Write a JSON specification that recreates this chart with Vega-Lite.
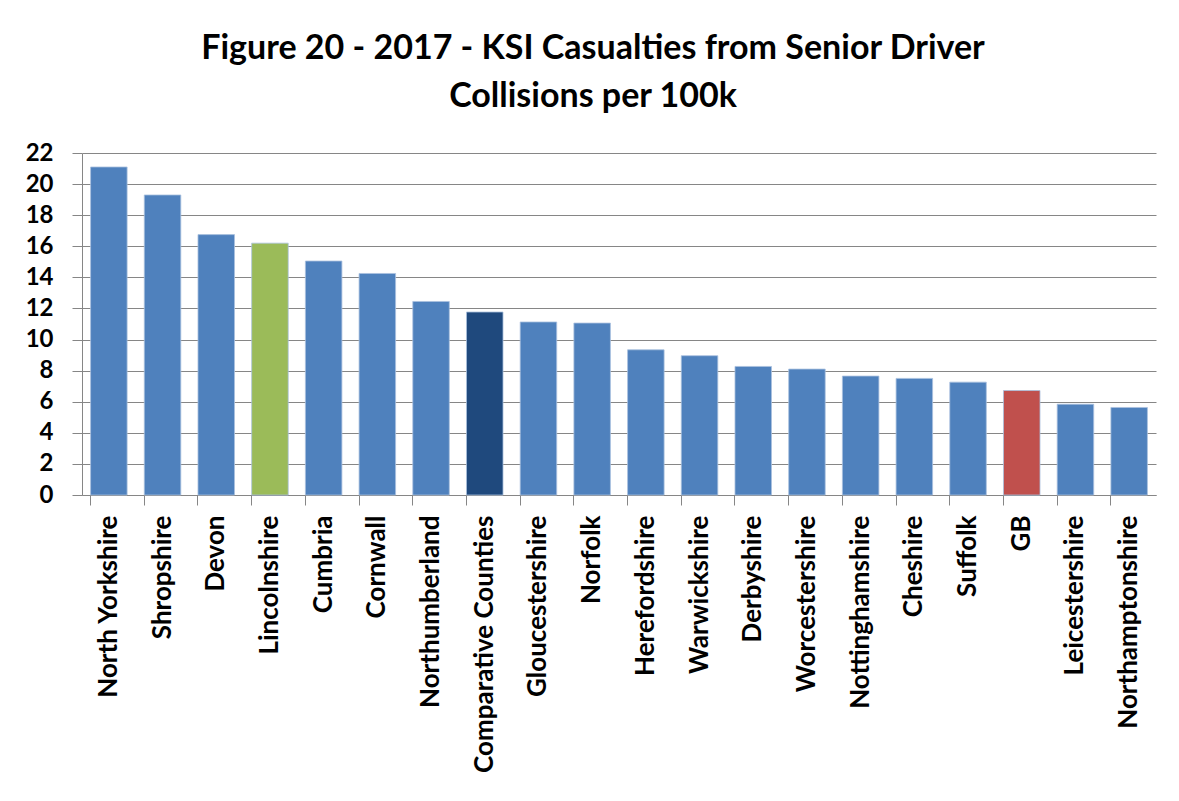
{
  "$schema": "https://vega.github.io/schema/vega-lite/v6.json",
  "width": 1074,
  "height": 342,
  "autosize": {"type": "none"},
  "padding": {"left": 82, "top": 153, "right": 23, "bottom": 306},
  "background": "white",
  "title": {
    "text": ["Figure 20 - 2017 - KSI Casualties from Senior Driver", "Collisions per 100k"],
    "font": "Lato",
    "fontSize": 34,
    "fontWeight": "bold",
    "color": "#000000",
    "lineHeight": 48,
    "anchor": "middle",
    "dx": -26,
    "offset": 27
  },
  "data": {
    "values": [
      {"area": "North Yorkshire", "value": 21.1, "group": "county"},
      {"area": "Shropshire", "value": 19.3, "group": "county"},
      {"area": "Devon", "value": 16.75, "group": "county"},
      {"area": "Lincolnshire", "value": 16.2, "group": "lincs"},
      {"area": "Cumbria", "value": 15.05, "group": "county"},
      {"area": "Cornwall", "value": 14.25, "group": "county"},
      {"area": "Northumberland", "value": 12.45, "group": "county"},
      {"area": "Comparative Counties", "value": 11.77, "group": "comparative"},
      {"area": "Gloucestershire", "value": 11.13, "group": "county"},
      {"area": "Norfolk", "value": 11.06, "group": "county"},
      {"area": "Herefordshire", "value": 9.34, "group": "county"},
      {"area": "Warwickshire", "value": 8.96, "group": "county"},
      {"area": "Derbyshire", "value": 8.27, "group": "county"},
      {"area": "Worcestershire", "value": 8.1, "group": "county"},
      {"area": "Nottinghamshire", "value": 7.65, "group": "county"},
      {"area": "Cheshire", "value": 7.5, "group": "county"},
      {"area": "Suffolk", "value": 7.26, "group": "county"},
      {"area": "GB", "value": 6.72, "group": "gb"},
      {"area": "Leicestershire", "value": 5.84, "group": "county"},
      {"area": "Northamptonshire", "value": 5.63, "group": "county"}
    ]
  },
  "mark": {"type": "bar", "stroke": "#a9c0de", "strokeWidth": 0.8},
  "encoding": {
    "x": {
      "field": "area",
      "type": "nominal",
      "sort": null,
      "scale": {"paddingInner": 0.32, "paddingOuter": 0.16},
      "axis": {
        "title": null,
        "labelAngle": -90,
        "labelAlign": "right",
        "labelBaseline": "middle",
        "labelFont": "Lato",
        "labelFontSize": 26,
        "labelFontWeight": "bold",
        "labelColor": "#000000",
        "labelPadding": 10,
        "bandPosition": 0,
        "tickSize": 10,
        "tickColor": "#868686",
        "domainColor": "#868686",
        "labelLimit": 400
      }
    },
    "y": {
      "field": "value",
      "type": "quantitative",
      "scale": {"domain": [0, 22]},
      "axis": {
        "title": null,
        "values": [0, 2, 4, 6, 8, 10, 12, 14, 16, 18, 20, 22],
        "labelFont": "Lato",
        "labelFontSize": 24,
        "labelFontWeight": "bold",
        "labelColor": "#000000",
        "labelPadding": 19,
        "tickSize": 10,
        "tickColor": "#868686",
        "domainColor": "#868686",
        "gridColor": "#868686",
        "gridWidth": 1
      }
    },
    "color": {
      "field": "group",
      "type": "nominal",
      "scale": {
        "domain": ["county", "lincs", "comparative", "gb"],
        "range": ["#4F81BD", "#9BBB59", "#1F497D", "#C0504D"]
      },
      "legend": null
    }
  },
  "config": {
    "view": {"stroke": null}
  }
}
